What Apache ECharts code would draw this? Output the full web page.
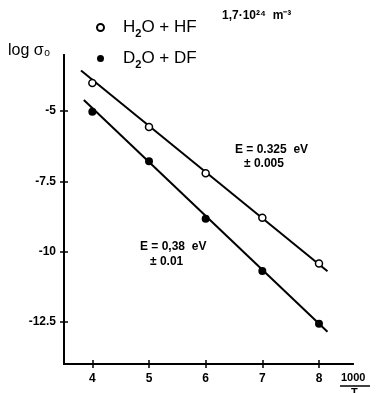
<!DOCTYPE html>
<html><head><meta charset="utf-8">
<script src="https://cdn.jsdelivr.net/npm/echarts@6/dist/echarts.min.js"></script>
<style>html,body{margin:0;padding:0;background:#fff}#c{width:377px;height:393px}</style>
</head><body><div id="c"></div>
<script>
const xTicks = [4, 5, 6, 7, 8];
const yTicks = [-5, -7.5, -10, -12.5];
const yTickLabels = ['-5', '-7.5', '-10', '-12.5'];
const seriesNames = ['H2O+HF', 'D2O+DF'];
const h2oVals = [-4.0, -5.56, -7.21, -8.79, -10.42];
const d2oVals = [-5.02, -6.78, -8.83, -10.69, -12.57];
const fitH2oX = [3.8, 8.15];
const fitH2oY = [-3.55, -10.7];
const fitD2oX = [3.85, 8.15];
const fitD2oY = [-4.6, -12.85];

const F = 'Liberation Sans';
const chart = echarts.init(document.getElementById('c'), null, {renderer: 'canvas'});
const pairs = (xs, ys) => xs.map((x, i) => [x, ys[i]]);
const tickLabelStyle = {color: '#000', fontFamily: F, fontWeight: 'bold', fontSize: 12};
const xAxisBase = {type: 'value', min: 3.5, max: 8.6, splitLine: {show: false},
  axisLine: {show: true, lineStyle: {color: '#000', width: 2}}};
const yAxisBase = {type: 'value', min: -14, max: -3, splitLine: {show: false},
  axisLine: {show: true, lineStyle: {color: '#000', width: 2}}};
chart.setOption({
  animation: false,
  backgroundColor: '#fff',
  grid: {left: 64, right: 24, top: 55, bottom: 29},
  xAxis: [
    Object.assign({}, xAxisBase, {
      axisTick: {show: true, length: 4, customValues: xTicks, lineStyle: {color: '#000', width: 1.5}},
      axisLabel: {show: true, customValues: xTicks, margin: 9, ...tickLabelStyle}
    }),
    Object.assign({}, xAxisBase, {position: 'bottom',
      axisTick: {show: true, inside: true, length: 4, customValues: xTicks, lineStyle: {color: '#000', width: 1.5}},
      axisLabel: {show: false}
    })
  ],
  yAxis: [
    Object.assign({}, yAxisBase, {
      axisTick: {show: true, length: 4, customValues: yTicks, lineStyle: {color: '#000', width: 1.5}},
      axisLabel: {show: true, customValues: yTicks, margin: 8, ...tickLabelStyle,
        formatter: v => yTickLabels[yTicks.indexOf(v)] ?? ''}
    }),
    Object.assign({}, yAxisBase, {position: 'left',
      axisTick: {show: true, inside: true, length: 4, customValues: yTicks, lineStyle: {color: '#000', width: 1.5}},
      axisLabel: {show: false}
    })
  ],
  legend: {
    orient: 'vertical', left: 91, top: 14, itemGap: 11, itemWidth: 7, itemHeight: 7,
    data: seriesNames,
    formatter: n => n === 'H2O+HF' ? '{a|H}{s|2}{a|O + HF}' : '{a|D}{s|2}{a|O + DF}',
    textStyle: {color: '#000', fontFamily: F, fontSize: 17, padding: [0, 0, 0, 14],
      rich: {a: {fontFamily: F, fontSize: 17, color: '#000'},
             s: {fontFamily: F, fontSize: 11, color: '#000', fontWeight: 'bold', padding: [12, 0, 0, 0]}}}
  },
  series: [
    {name: 'fitH', type: 'line', data: pairs(fitH2oX, fitH2oY), symbol: 'none',
     lineStyle: {color: '#000', width: 2}, silent: true, z: 1},
    {name: 'fitD', type: 'line', data: pairs(fitD2oX, fitD2oY), symbol: 'none',
     lineStyle: {color: '#000', width: 2}, silent: true, z: 1},
    {name: seriesNames[0], type: 'scatter', data: pairs(xTicks, h2oVals), symbol: 'circle', symbolSize: 7,
     itemStyle: {color: '#fff', borderColor: '#000', borderWidth: 1.5, opacity: 1}, z: 3},
    {name: seriesNames[1], type: 'scatter', data: pairs(xTicks, d2oVals), symbol: 'circle', symbolSize: 8,
     itemStyle: {color: '#000', opacity: 1}, z: 3}
  ],
  graphic: [
    {type: 'text', left: 8, top: 43, style: {text: 'log σ₀', fill: '#000', font: '16px ' + F}},
    {type: 'text', left: 222, top: 10, style: {text: '1,7·10²⁴  m⁻³', fill: '#000', font: 'bold 12px ' + F}},
    {type: 'text', left: 235, top: 144, style: {text: 'E = 0.325  eV', fill: '#000', font: 'bold 12px ' + F}},
    {type: 'text', left: 244, top: 158, style: {text: '± 0.005', fill: '#000', font: 'bold 12px ' + F}},
    {type: 'text', left: 140, top: 241, style: {text: 'E = 0,38  eV', fill: '#000', font: 'bold 12px ' + F}},
    {type: 'text', left: 150, top: 256, style: {text: '± 0.01', fill: '#000', font: 'bold 12px ' + F}},
    {type: 'text', left: 341, top: 372, style: {text: '1000', fill: '#000', font: 'bold 11px ' + F}},
    {type: 'line', shape: {x1: 340, y1: 386, x2: 370, y2: 386}, style: {stroke: '#000', lineWidth: 1.5}},
    {type: 'text', left: 351, top: 387, style: {text: 'T', fill: '#000', font: 'bold 11px ' + F}}
  ]
});
</script></body></html>
